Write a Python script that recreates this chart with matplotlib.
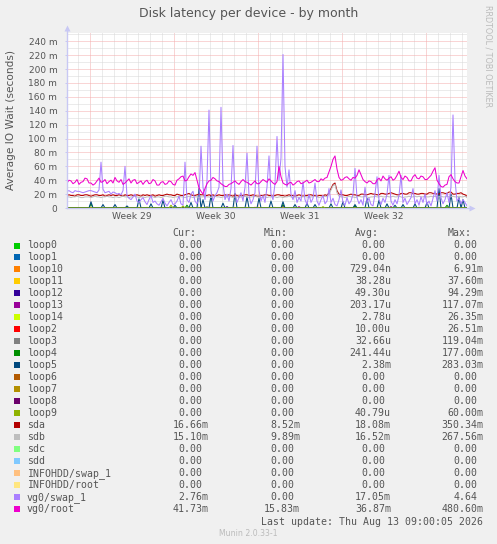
import numpy as np
import pandas as pd
import matplotlib
matplotlib.use("Agg")
import matplotlib.pyplot as plt
import matplotlib.dates as mdates
from matplotlib.patches import Rectangle
from matplotlib.ticker import MultipleLocator, FuncFormatter

# ---------------- data ----------------
title = "Disk latency per device - by month"
ylabel = "Average IO Wait (seconds)"

n_points = 201
start_time = "2026-07-11 03:00"
step = "4h"

week_labels = ["Week 29", "Week 30", "Week 31", "Week 32"]
week_starts = ["2026-07-13", "2026-07-20", "2026-07-27", "2026-08-03"]

names = ["loop0", "loop1", "loop10", "loop11", "loop12", "loop13", "loop14",
         "loop2", "loop3", "loop4", "loop5", "loop6", "loop7", "loop8", "loop9",
         "sda", "sdb", "sdc", "sdd", "INFOHDD/swap_1", "INFOHDD/root",
         "vg0/swap_1", "vg0/root"]
colors = ["#00CC00", "#0066B3", "#FF8000", "#FFCC00", "#330099", "#990099",
          "#CCFF00", "#FF0000", "#808080", "#008F00", "#00487D", "#B35A00",
          "#B38F00", "#6B006B", "#8FB300", "#B30000", "#BEBEBE", "#80FF80",
          "#80C9FF", "#FFC080", "#FFE680", "#AA80FF", "#EE00CC"]

cur = ["0.00"] * 15 + ["16.66m", "15.10m", "0.00", "0.00", "0.00", "0.00", "2.76m", "41.73m"]
mins = ["0.00"] * 15 + ["8.52m", "9.89m", "0.00", "0.00", "0.00", "0.00", "0.00", "15.83m"]
avgs = ["0.00", "0.00", "729.04n", "38.28u", "49.30u", "203.17u", "2.78u", "10.00u",
        "32.66u", "241.44u", "2.38m", "0.00", "0.00", "0.00", "40.79u", "18.08m",
        "16.52m", "0.00", "0.00", "0.00", "0.00", "17.05m", "36.87m"]
maxs = ["0.00", "0.00", "6.91m", "37.60m", "94.29m", "117.07m", "26.35m", "26.51m",
        "119.04m", "177.00m", "283.03m", "0.00", "0.00", "0.00", "60.00m", "350.34m",
        "267.56m", "0.00", "0.00", "0.00", "0.00", "4.64", "480.60m"]

# series values in milliseconds (4-hour samples)
vg0_root = [36, 40, 39, 35, 37, 41, 34, 37, 38, 43, 42, 36, 36, 33, 35, 39, 43, 37, 38, 41,
            35, 38, 40, 36, 44, 39, 37, 41, 34, 36, 39, 42, 36, 40, 41, 35, 37, 39, 34, 38,
            40, 35, 36, 41, 39, 33, 33, 37, 38, 34, 35, 39, 38, 34, 33, 40, 42, 45, 46, 39,
            40, 45, 49, 47, 51, 40, 29, 24, 20, 28, 35, 39, 40, 44, 42, 39, 38, 35, 33, 31,
            31, 34, 35, 37, 39, 36, 34, 38, 41, 38, 37, 35, 33, 36, 39, 35, 35, 38, 41, 39,
            37, 42, 39, 36, 34, 38, 60, 45, 36, 34, 33, 36, 37, 33, 35, 38, 39, 35, 36, 38,
            40, 36, 37, 39, 41, 38, 38, 42, 40, 43, 44, 52, 60, 70, 75, 56, 44, 40, 41, 44,
            45, 42, 40, 44, 43, 47, 55, 48, 41, 38, 36, 39, 38, 35, 35, 40, 43, 39, 46, 42,
            40, 43, 45, 40, 42, 47, 53, 44, 41, 46, 44, 39, 39, 45, 48, 43, 42, 46, 45, 41,
            41, 44, 47, 53, 58, 40, 35, 31, 30, 33, 34, 45, 48, 42, 38, 36, 36, 45, 54, 46, 42]
vg0_swap = [24, 25, 23, 22, 25, 24, 24, 23, 22, 23, 24, 25, 25, 24, 23, 22, 26,
            66,
            27, 22, 23, 24, 20, 23, 22, 20, 21, 19, 25,
            60,
            18, 14, 12, 16, 20, 10, 8, 12, 15, 9, 5, 12, 18, 8, 10, 6, 4, 9, 14, 7,
            3, 8, 12, 5, 6, 10, 17, 6, 4,
            66,
            12, 8, 20, 24, 10, 6, 14,
            89,
            30, 12, 40,
            141,
            25, 10, 18, 22, 30,
            145,
            35, 12, 20, 10, 28,
            90,
            20, 8, 15, 22, 10, 30,
            79,
            18, 6, 12, 22,
            89,
            25, 10, 18, 8, 30,
            75,
            20, 12, 35,
            103,
            40, 72,
            221,
            60, 30,
            55,
            20, 12, 25, 8, 15, 10,
            38,
            12, 5, 20, 8, 14,
            36,
            10, 4, 12, 18, 6, 10,
            28,
            8, 14, 5, 3, 12,
            26,
            8, 4, 15, 6, 10, 20,
            57,
            15, 6, 12, 4,
            30,
            8, 14, 5, 3, 20,
            45,
            12, 5, 14, 8, 20,
            47,
            10, 4, 12, 6, 18,
            47,
            8, 14, 5, 10, 15,
            28,
            6, 12, 4, 16, 8, 20, 5, 10, 3, 14, 25, 10,
            47,
            15, 6, 12, 22, 8, 30,
            134,
            40, 10, 14, 6, 12, 8, 3]
sda = [18, 19, 18, 18, 17, 19, 19, 18, 18, 19, 19, 18, 17, 18, 19, 19, 18, 18, 19, 17,
       18, 19, 18, 19, 18, 18, 19, 18, 17, 19, 18, 18, 19, 18, 18, 19, 18, 17, 19, 18,
       19, 18, 18, 19, 17, 18, 19, 18, 18, 19, 20, 19, 19, 18, 18, 20, 19, 18, 18, 19,
       20, 21, 19, 18, 18, 19, 20, 19, 19, 18, 18, 19, 18, 19, 17, 18, 19, 18, 18, 19,
       18, 19, 18, 17, 19, 18, 17, 18, 18, 19, 19, 18, 18, 19, 18, 17, 17, 18, 18, 19,
       19, 18, 18, 17, 18, 19, 19, 18, 18, 17, 18, 19, 18, 18, 17, 18, 19, 18, 17, 18,
       18, 19, 19, 18, 18, 17, 18, 18, 17, 19, 18, 22, 28, 34, 36, 25, 20, 19, 19, 18,
       18, 19, 20, 19, 19, 18, 18, 20, 20, 19, 19, 20, 21, 20, 20, 19, 19, 21, 21, 20,
       20, 21, 22, 21, 20, 19, 19, 21, 21, 20, 20, 22, 22, 21, 21, 20, 20, 21, 21, 20,
       20, 22, 22, 21, 21, 20, 20, 22, 22, 21, 21, 23, 23, 20, 20, 21, 21, 22, 20, 19, 17]
sdb = [16, 16, 15, 16, 16, 17, 16, 15, 15, 16, 16, 16, 15, 16, 17, 16, 16, 15, 16, 16,
       17, 16, 16, 15, 16, 16, 15, 16, 17, 16, 16, 15, 16, 16, 17, 16, 15, 16, 16, 15,
       16, 16, 17, 16, 15, 16, 16, 15, 16, 17, 17, 16, 16, 15, 16, 16, 17, 16, 16, 15,
       16, 17, 16, 15, 16, 16, 15, 16, 16, 17, 16, 16, 15, 16, 17, 16, 16, 15, 16, 16,
       16, 17, 16, 15, 16, 16, 15, 16, 16, 17, 16, 15, 16, 16, 17, 16, 16, 15, 16, 16,
       15, 16, 16, 17, 16, 15, 16, 16, 15, 16, 16, 17, 16, 15, 16, 16, 15, 16, 16, 17,
       16, 15, 16, 16, 17, 16, 15, 16, 16, 17, 16, 20, 26, 32, 34, 22, 17, 16, 16, 15,
       16, 17, 16, 16, 15, 16, 17, 16, 16, 17, 16, 15, 16, 16, 17, 16, 16, 17, 16, 16,
       17, 16, 16, 17, 16, 16, 17, 16, 15, 16, 16, 17, 16, 16, 17, 16, 17, 16, 16, 17,
       16, 16, 17, 16, 17, 16, 16, 17, 16, 16, 17, 16, 16, 17, 16, 16, 17, 16, 16, 17, 15]
# sparse series: sample index -> milliseconds
loop5_spikes = {12: 9, 18: 5, 24: 5, 30: 3, 36: 13, 42: 6, 48: 11, 54: 4, 62: 8,
                66: 28, 68: 12, 72: 18, 78: 7, 84: 21, 90: 16, 96: 14, 102: 10,
                108: 9, 114: 5, 120: 7, 124: 5, 132: 6, 138: 9, 144: 5, 150: 14,
                156: 11, 160: 6, 164: 4, 168: 5, 174: 6, 180: 8, 186: 28, 192: 20,
                196: 15, 198: 12}
loop4_spikes = {12: 6, 60: 4, 108: 5, 144: 3, 190: 4}
loop9_spikes = {52: 4, 58: 3, 128: 2}
loop13_spikes = {108: 2, 116: 2, 162: 2}
loop12_spikes = {80: 2, 176: 1}
loop3_spikes = {70: 2}
loop2_spikes = {94: 1}
loop10_spikes = {140: 1}
loop11_spikes = {104: 1}
loop14_spikes = {40: 1}

# ---------------- build series ----------------
def sparse(sp):
    arr = np.zeros(n_points)
    for k, v in sp.items():
        arr[k] = v
    return arr

zero = np.zeros(n_points)
series = {
    "loop0": zero, "loop1": zero, "loop10": sparse(loop10_spikes),
    "loop11": sparse(loop11_spikes), "loop12": sparse(loop12_spikes),
    "loop13": sparse(loop13_spikes), "loop14": sparse(loop14_spikes),
    "loop2": sparse(loop2_spikes), "loop3": sparse(loop3_spikes),
    "loop4": sparse(loop4_spikes), "loop5": sparse(loop5_spikes),
    "loop6": zero, "loop7": zero, "loop8": zero, "loop9": sparse(loop9_spikes),
    "sda": np.array(sda, float), "sdb": np.array(sdb, float),
    "sdc": zero, "sdd": zero, "INFOHDD/swap_1": zero, "INFOHDD/root": zero,
    "vg0/swap_1": np.array(vg0_swap, float), "vg0/root": np.array(vg0_root, float),
}

# ---------------- figure ----------------
W, H = 497, 544
fig = plt.figure(figsize=(W / 100, H / 100), dpi=100, facecolor="#F0F0F0")

def fx(x):
    return x / W

def fy(y):
    return 1 - y / H

TXT = "#555555"
AXC = "#C8C8F4"
MONO = "DejaVu Sans Mono"

ax = fig.add_axes([fx(67), fy(208), 400 / W, 175 / H])
ax.set_facecolor("white")

times = pd.date_range(start_time, periods=n_points, freq=step)
tn = mdates.date2num(times)
ax.set_xlim(tn[0], tn[-1])
ax.set_ylim(0, 252)

ax.xaxis.set_major_locator(mdates.WeekdayLocator(byweekday=mdates.MO))
ax.xaxis.set_minor_locator(mdates.DayLocator())
ax.yaxis.set_major_locator(MultipleLocator(20))
ax.yaxis.set_minor_locator(MultipleLocator(10))
ax.set_axisbelow(True)
ax.grid(which="minor", color="#D8D8D8", lw=0.72, ls=(0, (1, 1)))
ax.grid(which="major", color="#F4ACAC", lw=0.72, ls=(0, (1, 1)))

ax.tick_params(axis="x", which="both", length=0, labelbottom=False)
ax.tick_params(axis="y", which="minor", length=0)
ax.tick_params(axis="y", which="major", length=1.5, width=0.72, color=AXC,
               pad=5.5, labelsize=6.5, labelcolor=TXT)
ax.yaxis.set_major_formatter(FuncFormatter(lambda v, p: "0" if v == 0 else f"{int(v)} m"))

for s in ax.spines.values():
    s.set_visible(False)

for name, col in zip(names, colors):
    ax.plot(tn, series[name], color=col, lw=0.75, zorder=3)

# axis lines with arrows
ax.plot([0, 0], [0, 1.02], transform=ax.transAxes, color=AXC, lw=1.0, clip_on=False, zorder=4)
ax.plot([0, 1.01], [0, 0], transform=ax.transAxes, color=AXC, lw=1.0, clip_on=False, zorder=2)
ax.plot([0], [1.03], transform=ax.transAxes, marker="^", ms=4.5, color=AXC, mec="none", clip_on=False)
ax.plot([1.012], [0], transform=ax.transAxes, marker=">", ms=4.5, color=AXC, mec="none", clip_on=False)

# week labels
xt = ax.get_xaxis_transform()
for lab, ws in zip(week_labels, week_starts):
    mid = mdates.date2num(pd.Timestamp(ws) + pd.Timedelta(hours=84))
    ax.text(mid, -0.05, lab, transform=xt, ha="center", va="center",
            fontsize=6.6, color=TXT)

# titles
fig.text(fx(248.3), fy(13), title, ha="center", va="center", fontsize=9, color=TXT)
fig.text(fx(11), fy(120), ylabel, rotation=90, ha="center", va="center",
         fontsize=7.6, color=TXT)
fig.text(fx(488), fy(56), "RRDTOOL / TOBI OETIKER", rotation=270, ha="center",
         va="center", fontsize=5.8, color="#BBBBBB")

# legend table
CW = 5.95
col_edges = [208.3, 300.0, 391.0, 483.3]
headers = ["Cur:", "Min:", "Avg:", "Max:"]
for h, e in zip(headers, col_edges):
    fig.text(fx(e - 2 * CW), fy(233), h, ha="right", va="center",
             family=MONO, fontsize=7.1, color=TXT)

for k, (name, col) in enumerate(zip(names, colors)):
    y = 245.5 + 11.98 * k
    fig.patches.append(Rectangle((fx(14), fy(y + 3)), 6 / W, 6 / H,
                                 transform=fig.transFigure, figure=fig,
                                 facecolor=col, edgecolor="none"))
    fig.text(fx(26.7), fy(y), name, ha="left", va="center",
             family=MONO, fontsize=7.1, color=TXT)
    for vals, e in zip((cur, mins, avgs, maxs), col_edges):
        v = vals[k]
        edge = e if v[-1].isalpha() else e - CW
        fig.text(fx(edge), fy(y), v, ha="right", va="center",
                 family=MONO, fontsize=7.1, color=TXT)

fig.text(fx(483.3), fy(521.7), "Last update: Thu Aug 13 09:00:05 2026",
         ha="right", va="center", family=MONO, fontsize=7.1, color=TXT)
fig.text(fx(248), fy(533), "Munin 2.0.33-1", ha="center", va="center",
         fontsize=5.6, color="#BBBBBB")

fig.savefig("out.png", dpi=100, facecolor=fig.get_facecolor())
